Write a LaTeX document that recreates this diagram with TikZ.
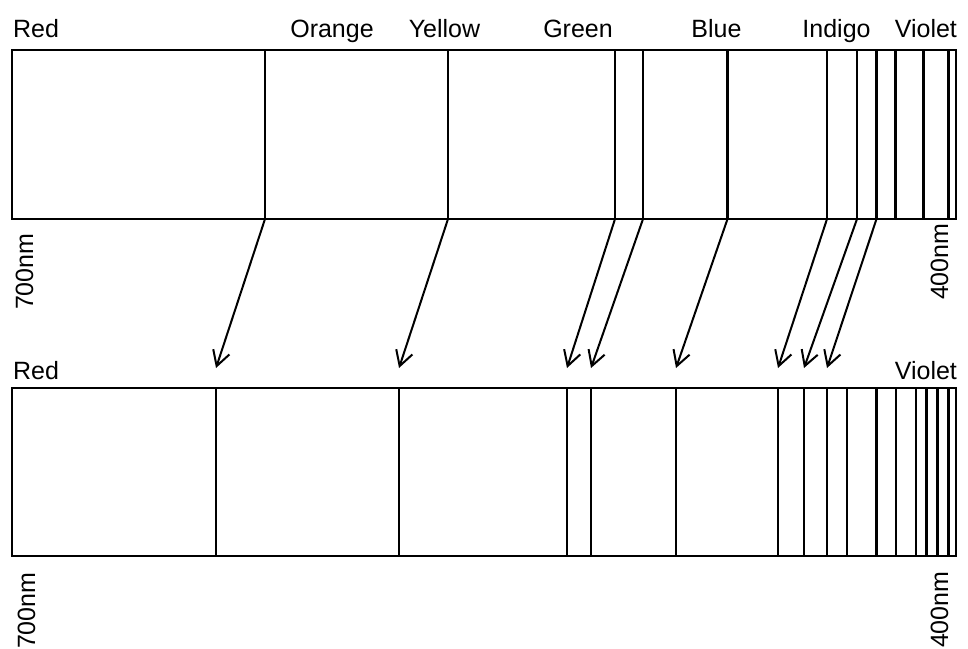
\documentclass[tikz,border=0pt]{standalone}
\usepackage{fontspec}
\setmainfont{Liberation Sans}
\usetikzlibrary{positioning,arrows.meta}

\begin{document}
\begin{tikzpicture}[x=1pt, y=-1pt, line width=2.2pt,
  every node/.style={font=\fontsize{25}{30}\selectfont, inner sep=0pt},
  nm/.style={rotate=90, anchor=base west},
  remap/.style={-{Straight Barb[length=15pt,width=17pt]}, line width=2pt}]
\useasboundingbox (0,0) rectangle (968,648);

\draw (12,50) rectangle (956,219);
\foreach \x in {265,448,615,643,727.5,827,857,876.5,895.5,923.5,948.5}
  \draw (\x,50) -- (\x,219);
\draw (12,388) rectangle (956,556);
\foreach \x in {216,399,567,591,676,778,804,827,847,876.5,896,916,926.5,937.5,948.5}
  \draw (\x,388) -- (\x,556);

\foreach \a/\b [count=\i] in {265/216,448/399,615/567,643/591,727.5/676,827/778,857/804,876.5/827}{
  \coordinate (from\i) at (\a,219);
  \coordinate (to\i) at (\b,368);
  \draw[remap] (from\i) -- (to\i);
}

\node (red) [anchor=base west] at (12,37) {Red};
\node (orange) [anchor=base] at (332,37) {Orange};
\node (yellow) [anchor=base] at (444.5,37) {Yellow};
\node (green) [anchor=base] at (578,37) {Green};
\node (blue) [anchor=base] at (716.5,37) {Blue};
\node (indigo) [anchor=base] at (836.5,37) {Indigo};
\node (violet) [anchor=base east] at (958,37) {Violet};
\node (redlow) [anchor=base west] at (12,379) {Red};
\node (violetlow) [anchor=base east] at (958,379) {Violet};

\node (long) [nm] at (33,311) {700nm};
\node (short) [nm] at (948,301) {400nm};
\node (longlow) [nm] at (35,650) {700nm};
\node (shortlow) [nm] at (948,649) {400nm};
\end{tikzpicture}
\end{document}
